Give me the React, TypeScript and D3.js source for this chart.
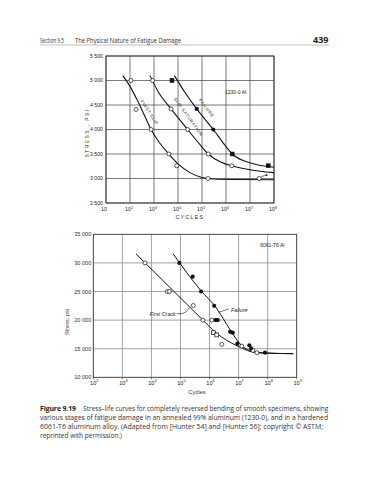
import React from "react";
import * as d3 from "d3";

// cycles are stored as log10(N), stresses in psi

// ---- upper chart: 1230-0 Al ----
const topYTicks = [2500, 3000, 3500, 4000, 4500, 5000, 5500];
const topYLabels = ["2 500", "3 000", "3 500", "4 000", "4 500", "5 000", "5 500"];
const topXTicks = [1, 2, 3, 4, 5, 6, 7, 8];

const firstSlipCurve = [
  [1.7, 5100], [2.0, 4880], [2.3, 4600], [2.6, 4290], [2.88, 4000], [3.2, 3750],
  [3.62, 3500], [4.0, 3300], [4.5, 3120], [5.0, 3020], [5.5, 2990], [6.5, 2980], [8, 2975],
];
const firstSlipPts = [
  [2.04, 5000], [2.25, 4410], [2.88, 4000], [3.62, 3500], [3.95, 3260], [5.25, 3000],
];
const slipSatCurve = [
  [2.83, 5100], [3.2, 4750], [3.71, 4420], [4.4, 4000], [4.8, 3760], [5.26, 3500],
  [5.8, 3330], [6.24, 3260], [7, 3180], [8, 3120],
];
const slipSatPts = [[2.94, 5000], [3.71, 4420], [4.4, 4000], [5.26, 3500], [6.24, 3260]];
const runoutPts = [[7.38, 3000]];
const failureCurve = [
  [3.85, 5100], [4.3, 4750], [4.78, 4420], [5.47, 4000], [6.0, 3650], [6.26, 3500],
  [6.8, 3350], [7.3, 3280], [8, 3230],
];
const failureSquares = [[3.75, 5000], [6.26, 3500], [7.76, 3261]];
const failureDots = [[4.78, 4420], [5.47, 4000]];

// ---- lower chart: 6061-T6 Al ----
const botYTicks = [10000, 15000, 20000, 25000, 30000, 35000];
const botYLabels = ["10 000", "15 000", "20 000", "25 000", "30 000", "35 000"];
const botXTicks = [2, 3, 4, 5, 6, 7, 8, 9];

const crackCurve = [
  [3.47, 31570], [4.6, 25890], [5.77, 20000], [6.1, 18350], [6.42, 17030], [6.75, 16000],
  [7.05, 15280], [7.39, 14530], [7.8, 14250], [8.88, 14130],
];
const failCurve = [
  [4.75, 31570], [5.7, 25170], [6.21, 22300], [6.71, 18300], [7.05, 15840],
  [7.39, 14670], [7.85, 14270], [8.88, 14130],
];
const openCircles = [
  [3.78, 30000], [4.55, 25000], [4.62, 25000], [5.44, 22550], [5.77, 20000], [6.08, 20000],
  [6.42, 15750], [7.11, 15450], [7.49, 14700], [7.63, 14300],
];
const openSquares = [[6.13, 17800], [6.25, 17400]];
const filledCircles = [
  [4.96, 30000], [5.42, 27600], [5.71, 25000], [6.16, 22500], [6.21, 20000], [6.28, 20000],
  [6.71, 17950], [6.8, 17800], [6.96, 15900], [7.37, 15600], [7.43, 15050], [7.91, 14300],
];

const captionLines = [
  "Stress–life curves for completely reversed bending of smooth specimens, showing",
  "various stages of fatigue damage in an annealed 99% aluminum (1230-0), and in a hardened",
  "6061-T6 aluminum alloy. (Adapted from [Hunter 54] and [Hunter 56]; copyright © ASTM;",
  "reprinted with permission.)",
];

const tx = d3.scaleLinear().domain([1, 8]).range([106, 274]);
const ty = d3.scaleLinear().domain([2500, 5500]).range([203, 56]);
const bx = d3.scaleLinear().domain([2, 9]).range([93.3, 296.7]);
const by = d3.scaleLinear().domain([10000, 35000]).range([377.3, 234.3]);

const chartFont = "'Liberation Sans', Arial, sans-serif";
const textFont = "'Open Sans', 'Noto Sans', sans-serif";

function Sup({ x, y, base, exp, size }) {
  return (
    <text x={x} y={y} fontSize={size} textAnchor="middle" fontFamily={chartFont} fill="#222">
      <tspan>{base}</tspan>
      {exp !== null && (
        <tspan dy={-size * 0.45} fontSize={size * 0.7}>{exp}</tspan>
      )}
    </text>
  );
}

export default function App() {
  const topLine = d3.line().x((d) => tx(d[0])).y((d) => ty(d[1])).curve(d3.curveMonotoneX);
  const botLine = d3.line().x((d) => bx(d[0])).y((d) => by(d[1])).curve(d3.curveMonotoneX);

  const openC = (pts, sx, sy, r = 2) =>
    pts.map((d, i) => (
      <circle key={i} cx={sx(d[0])} cy={sy(d[1])} r={r} fill="#fff" stroke="#111" strokeWidth={0.7} />
    ));
  const dotC = (pts, sx, sy, r = 2.1) =>
    pts.map((d, i) => <circle key={i} cx={sx(d[0])} cy={sy(d[1])} r={r} fill="#111" />);
  const squares = (pts, sx, sy, filled, s = 3.8) =>
    pts.map((d, i) => (
      <rect key={i} x={sx(d[0]) - s / 2} y={sy(d[1]) - s / 2} width={s} height={s}
        fill={filled ? "#111" : "#fff"} stroke="#111" strokeWidth={0.7} />
    ));

  // labels written along the curves
  const rotLabel = (x, y, angle, text) => (
    <text transform={`translate(${x},${y}) rotate(${angle})`} textAnchor="middle"
      fontSize={4.3} letterSpacing={0.6} fontFamily={chartFont} fill="#222">{text}</text>
  );

  return (
    <svg width={368} height={480} style={{ position: "absolute", left: 0, top: 0, background: "#fff" }}>
      {/* page header */}
      <text x={40} y={42.5} fontSize={6.4} fontFamily={textFont} fill="#333" textLength={24} lengthAdjust="spacingAndGlyphs">
        Section 9.5
      </text>
      <text x={75} y={42.5} fontSize={6.6} fontFamily={textFont} fill="#333" textLength={106} lengthAdjust="spacingAndGlyphs">
        The Physical Nature of Fatigue Damage
      </text>
      <text x={328.5} y={42.8} fontSize={9} fontWeight="bold" textAnchor="end" fontFamily={textFont} fill="#222">439</text>
      <line x1={40} x2={329} y1={45} y2={45} stroke="#999" strokeWidth={0.6} />

      {/* ===== upper chart ===== */}
      <g>
        {topXTicks.map((t) => (
          <line key={t} x1={tx(t)} x2={tx(t)} y1={ty(5500)} y2={ty(2500)} stroke="#444" strokeWidth={0.7} />
        ))}
        {topYTicks.map((t) => (
          <line key={t} x1={tx(1)} x2={tx(8)} y1={ty(t)} y2={ty(t)} stroke="#444" strokeWidth={0.7} />
        ))}
        <rect x={tx(1)} y={ty(5500)} width={tx(8) - tx(1)} height={ty(2500) - ty(5500)} fill="none" stroke="#222" strokeWidth={0.8} />
        {topYTicks.map((t, i) => (
          <text key={t} x={tx(1) - 3} y={ty(t) + 1.8} fontSize={5.2} textAnchor="end" fontFamily={chartFont} fill="#222">
            {topYLabels[i]}
          </text>
        ))}
        {topXTicks.map((t) => (
          <Sup key={t} x={tx(t) - (t === 1 ? 2 : 1)} y={211} base="10" exp={t === 1 ? null : String(t)} size={5.2} />
        ))}
        <text x={190} y={219} fontSize={5} letterSpacing={1.4} textAnchor="middle" fontFamily={chartFont} fill="#222">CYCLES</text>
        <text transform="translate(89,133) rotate(-90)" fontSize={5} letterSpacing={1.4} textAnchor="middle" fontFamily={chartFont} fill="#222">
          STRESS , PSI
        </text>

        <path d={topLine(firstSlipCurve)} fill="none" stroke="#111" strokeWidth={1.1} />
        <path d={topLine(slipSatCurve)} fill="none" stroke="#111" strokeWidth={1.1} />
        <path d={topLine(failureCurve)} fill="none" stroke="#111" strokeWidth={1.1} />

        {openC(firstSlipPts, tx, ty)}
        {openC(slipSatPts, tx, ty)}
        {openC(runoutPts, tx, ty)}
        {runoutPts.map((d, i) => {
          const x0 = tx(d[0]) + 2, y0 = ty(d[1]) - 2;
          return (
            <g key={i}>
              <line x1={x0} y1={y0} x2={x0 + 6} y2={y0 - 1.4} stroke="#111" strokeWidth={0.6} />
              <path d={`M${x0 + 7},${y0 - 1.6} l-2.4,-1 l0.4,2 z`} fill="#111" />
            </g>
          );
        })}
        {squares(failureSquares, tx, ty, true)}
        {dotC(failureDots, tx, ty)}

        {rotLabel(tx(2.76), ty(4330), 57, "FIRST SLIP")}
        {rotLabel(tx(4.38), ty(4240), 54, "SLIP SATURATION")}
        {rotLabel(tx(5.14), ty(4420), 53, "FAILURE")}
        <text x={tx(6.4)} y={ty(4730)} fontSize={5} textAnchor="middle" fontFamily={chartFont} fill="#222">1230-0 Al</text>
      </g>

      {/* ===== lower chart ===== */}
      <g>
        {botXTicks.map((t) => (
          <line key={t} x1={bx(t)} x2={bx(t)} y1={by(35000)} y2={by(10000)} stroke="#8a8a8a" strokeWidth={0.8} />
        ))}
        {botYTicks.map((t) => (
          <line key={t} x1={bx(2)} x2={bx(9)} y1={by(t)} y2={by(t)} stroke="#8a8a8a" strokeWidth={0.8} />
        ))}
        <rect x={bx(2)} y={by(35000)} width={bx(9) - bx(2)} height={by(10000) - by(35000)} fill="none" stroke="#333" strokeWidth={0.7} />
        {botXTicks.map((t) => (
          <line key={t} x1={bx(t)} x2={bx(t)} y1={by(10000)} y2={by(10000) + 2} stroke="#333" strokeWidth={0.6} />
        ))}
        {botYTicks.map((t, i) => (
          <text key={t} x={bx(2) - 2} y={by(t) + 2} fontSize={5.6} textAnchor="end" fontFamily={chartFont} fill="#333">
            {botYLabels[i]}
          </text>
        ))}
        {botXTicks.map((t) => (
          <Sup key={t} x={bx(t) + 1} y={385} base="10" exp={String(t)} size={5.6} />
        ))}
        <text x={197} y={394} fontSize={5.8} textAnchor="middle" fontFamily={chartFont} fill="#333">Cycles</text>
        <text transform="translate(69,322) rotate(-90)" fontSize={5.6} textAnchor="middle" fontFamily={chartFont} fill="#333">
          Stress, psi
        </text>
        <text x={bx(8.16)} y={by(33000) + 1} fontSize={5} textAnchor="middle" fontFamily={chartFont} fill="#222">6061-T6 Al</text>

        <path d={botLine(crackCurve)} fill="none" stroke="#111" strokeWidth={1} />
        <path d={botLine(failCurve)} fill="none" stroke="#111" strokeWidth={1} />

        {openC(openCircles, bx, by)}
        {squares(openSquares, bx, by, false)}
        {dotC(filledCircles, bx, by)}

        {/* annotations */}
        <path d={`M${bx(4.87)},${by(21100)} L${bx(5.08)},${by(21150)} Q${bx(5.22)},${by(21300)} ${bx(5.3)},${by(22150)}`}
          fill="none" stroke="#111" strokeWidth={0.6} />
        <text x={bx(4.84)} y={by(21100) + 2} fontSize={5.4} fontStyle="italic" textAnchor="end" fontFamily={chartFont} fill="#222">
          First Crack
        </text>
        <path d={`M${bx(6.3)},${by(21350)} L${bx(6.66)},${by(21950)}`} fill="none" stroke="#111" strokeWidth={0.6} />
        <text x={bx(6.74)} y={by(21750) + 2} fontSize={5.4} fontStyle="italic" fontFamily={chartFont} fill="#222">Failure</text>
      </g>

      {/* caption */}
      <text x={40} y={410.5} fontSize={6.9} fontWeight="bold" fontFamily={textFont} fill="#222" textLength={36}>Figure 9.19</text>
      <text x={83.3} y={410.5} fontSize={6.9} fontFamily={textFont} fill="#333" textLength={245} lengthAdjust="spacingAndGlyphs">
        {captionLines[0]}
      </text>
      <text x={40} y={419.8} fontSize={6.9} fontFamily={textFont} fill="#333" textLength={288} lengthAdjust="spacingAndGlyphs">
        {captionLines[1]}
      </text>
      <text x={40} y={429.1} fontSize={6.9} fontFamily={textFont} fill="#333" textLength={283} lengthAdjust="spacingAndGlyphs">
        {captionLines[2]}
      </text>
      <text x={40} y={438.4} fontSize={6.9} fontFamily={textFont} fill="#333" textLength={82} lengthAdjust="spacingAndGlyphs">
        {captionLines[3]}
      </text>
    </svg>
  );
}
